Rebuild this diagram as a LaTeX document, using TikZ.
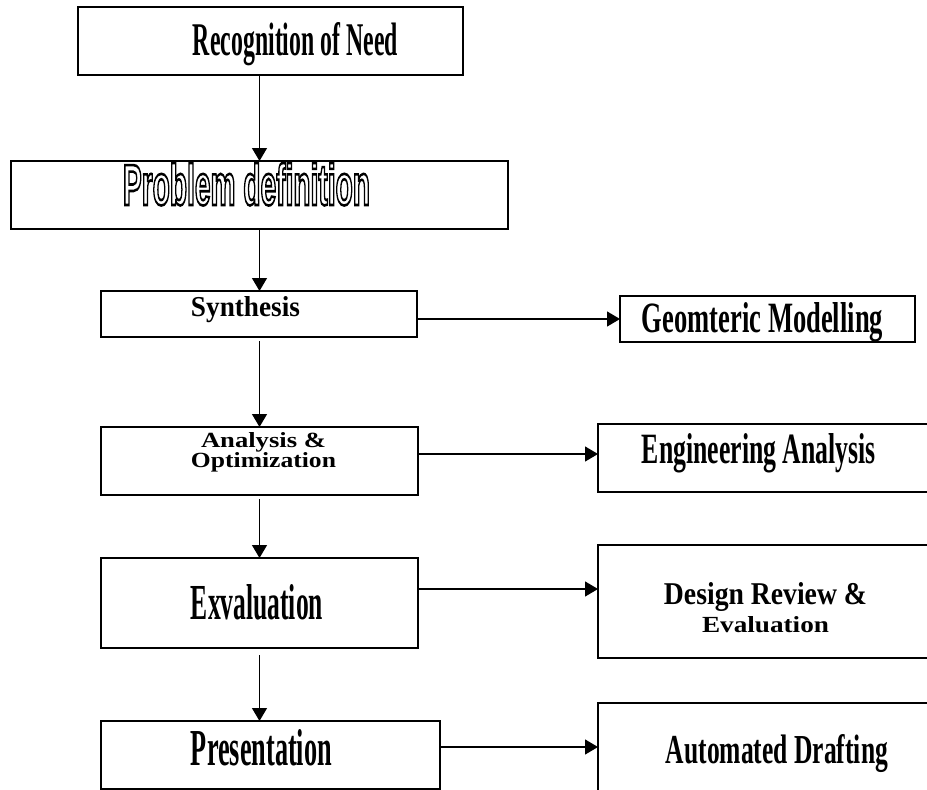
\documentclass[tikz,border=0pt]{standalone}
\usepackage{fontspec}
\setmainfont{Liberation Serif}
\newfontfamily\sansfam{Liberation Sans}
\usepackage{graphicx}
\usetikzlibrary{arrows.meta}
\newcommand{\fitxt}[3]{\resizebox{#1pt}{#2pt}{#3}}
\newcommand{\outlinetext}[1]{\special{pdf:literal direct 1 Tr 0.45 w}#1\special{pdf:literal direct 0 Tr 1 w}}
\begin{document}
\begin{tikzpicture}[x=1pt,y=-1pt,
  box/.style={draw, line width=1.6pt, inner sep=0pt, outer sep=0pt},
  arr/.style={line width=1.3pt, -{Triangle[width=15pt,length=13pt]}},
  lbl/.style={anchor=base, inner sep=0pt, outer sep=0pt, font=\bfseries}]
\useasboundingbox (0,0) rectangle (927,790);
\clip (0,0) rectangle (927,790);
\fill[white] (0,0) rectangle (927,790);
% boxes
\node[box, minimum width=385pt, minimum height=68pt] (rec) at (270.5,41) {};
\node[box, minimum width=497pt, minimum height=68pt] (prob) at (259.5,195) {};
\node[box, minimum width=316pt, minimum height=46pt] (syn) at (259,314) {};
\node[box, minimum width=317pt, minimum height=68pt] (ana) at (259.5,461) {};
\node[box, minimum width=317pt, minimum height=90pt] (exv) at (259.5,603) {};
\node[box, minimum width=339pt, minimum height=68pt] (pres) at (270.5,755) {};
\node[box, minimum width=295pt, minimum height=46pt] (geo) at (767.5,319) {};
\node[box, minimum width=342pt, minimum height=68pt] (eng) at (769,458) {};
\node[box, minimum width=342pt, minimum height=113pt] (des) at (769,601.5) {};
\node[box, minimum width=342pt, minimum height=117pt] (auto) at (769,761.5) {};
% labels
\node[lbl] (t1) at (295.5,55) {\fitxt{205}{33}{Recognition of Need}};
\node[lbl] (t2) at (246.5,205) {\fitxt{247}{42}{\outlinetext{\sansfam\bfseries Problem definition}}};
\node[lbl] (t3) at (245.5,316) {\fitxt{109}{20}{Synthesis}};
\node[lbl] (t4a) at (263.5,447) {\fitxt{125}{15}{Analysis \&}};
\node[lbl] (t4b) at (263.5,467) {\fitxt{145}{15}{Optimization}};
\node[lbl] (t5) at (257,619) {\fitxt{132}{35}{Exvaluation}};
\node[lbl] (t6) at (261.5,765) {\fitxt{141}{36}{Presentation}};
\node[lbl] (t7) at (762.5,332) {\fitxt{241}{30}{Geomteric Modelling}};
\node[lbl] (t8) at (759,463) {\fitxt{234}{30}{Engineering Analysis}};
\node[lbl] (t9a) at (765.5,604) {\fitxt{203}{22}{Design Review \&}};
\node[lbl] (t9b) at (765.5,632) {\fitxt{127}{16}{Evaluation}};
\node[lbl] (t10) at (777,763) {\fitxt{222}{29}{Automated Drafting}};
% vertical arrows
\draw[arr] (prob.north |- rec.south) -- (prob.north);
\draw[arr] (prob.south) -- (prob.south |- syn.north);
\draw[arr, shorten <=4pt] (ana.north |- syn.south) -- (ana.north);
\draw[arr, shorten <=4pt] (ana.south) -- (exv.north);
\draw[arr, shorten <=7pt] (exv.south) -- (exv.south |- pres.north);
% horizontal arrows
\draw[arr] (geo.west -| syn.east) -- (geo.west);
\draw[arr] ([yshift=7pt]ana.east) -- ([yshift=7pt]ana.east -| eng.west);
\draw[arr] ([yshift=14pt]exv.east) -- ([yshift=14pt]exv.east -| des.west);
\draw[arr] ([yshift=8pt]pres.east) -- ([yshift=8pt]pres.east -| auto.west);
\end{tikzpicture}
\end{document}
